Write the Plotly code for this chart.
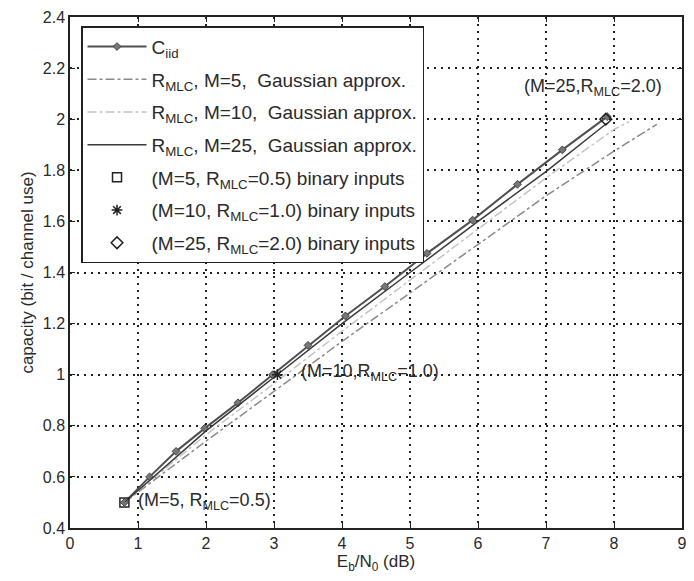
import plotly.graph_objects as go

# C_iid curve (markers)
ciid_x = [0.80, 1.17, 1.56, 1.98, 2.47, 2.98, 3.50, 4.05, 4.63, 5.25, 5.92, 6.58, 7.24, 7.90]
ciid_y = [0.50, 0.60, 0.70, 0.79, 0.89, 1.00, 1.115, 1.23, 1.345, 1.475, 1.605, 1.745, 1.88, 2.01]

# Gaussian approximations
m5_x = [0.80, 2.0, 3.0, 4.0, 5.0, 6.0, 7.0, 8.0, 8.63]
m5_y = [0.50, 0.74, 0.935, 1.13, 1.32, 1.51, 1.70, 1.875, 1.98]
m10_x = [0.80, 2.0, 3.0, 4.0, 5.0, 6.0, 7.0, 8.0, 8.22]
m10_y = [0.50, 0.765, 0.965, 1.17, 1.37, 1.57, 1.77, 1.96, 1.99]
m25_x = [0.80, 2.0, 3.0, 4.0, 5.0, 6.0, 7.0, 7.90]
m25_y = [0.50, 0.78, 0.99, 1.20, 1.40, 1.60, 1.795, 1.985]

# binary input points
b5 = (0.80, 0.50)
b10 = (3.05, 1.00)
b25 = (7.88, 2.00)

xticks = [0, 1, 2, 3, 4, 5, 6, 7, 8, 9]
yticks = [0.4, 0.6, 0.8, 1.0, 1.2, 1.4, 1.6, 1.8, 2.0, 2.2, 2.4]
ytick_text = ["0.4", "0.6", "0.8", "1", "1.2", "1.4", "1.6", "1.8", "2", "2.2", "2.4"]

FONT = "Liberation Sans, Arial, sans-serif"
TXT = "#2a2a2a"

fig = go.Figure()
fig.add_trace(go.Scatter(x=ciid_x, y=ciid_y, mode="lines+markers",
                         line=dict(color="#505050", width=2),
                         marker=dict(symbol="diamond", size=6, color="#777777",
                                     line=dict(color="#444444", width=1)),
                         name="C<sub>iid</sub>", legendgroup="a"))
fig.add_trace(go.Scatter(x=m5_x, y=m5_y, mode="lines",
                         line=dict(color="#8a8a8a", width=1.5, dash="dashdot"),
                         name="R<sub>MLC</sub>, M=5,  Gaussian approx.", legendgroup="b"))
fig.add_trace(go.Scatter(x=m10_x, y=m10_y, mode="lines",
                         line=dict(color="#c4c4c4", width=1.5, dash="dashdot"),
                         name="R<sub>MLC</sub>, M=10,  Gaussian approx.", legendgroup="c"))
fig.add_trace(go.Scatter(x=m25_x, y=m25_y, mode="lines",
                         line=dict(color="#3a3a3a", width=1.5),
                         name="R<sub>MLC</sub>, M=25,  Gaussian approx.", legendgroup="d"))
fig.add_trace(go.Scatter(x=[b5[0]], y=[b5[1]], mode="markers",
                         marker=dict(symbol="square-open", size=9, color="#222222",
                                     line=dict(width=1.5)),
                         name="(M=5, R<sub>MLC</sub>=0.5) binary inputs", legendgroup="e"))
fig.add_trace(go.Scatter(x=[b10[0]], y=[b10[1]], mode="markers",
                         marker=dict(symbol="asterisk-open", size=9, color="#222222",
                                     line=dict(width=1.5, color="#222222")),
                         name="(M=10, R<sub>MLC</sub>=1.0) binary inputs", legendgroup="f"))
fig.add_trace(go.Scatter(x=[b25[0]], y=[b25[1]], mode="markers",
                         marker=dict(symbol="diamond-open", size=9, color="#222222",
                                     line=dict(width=1.5)),
                         name="(M=25, R<sub>MLC</sub>=2.0) binary inputs", legendgroup="g"))

ann_font = dict(family=FONT, size=18, color=TXT)
fig.add_annotation(x=0.97, y=0.505, text="(M=5, R<sub>MLC</sub>=0.5)", showarrow=False,
                   xanchor="left", yanchor="middle", font=ann_font)
fig.add_annotation(x=3.37, y=1.01, text="(M=10,R<sub>MLC</sub>=1.0)", showarrow=False,
                   xanchor="left", yanchor="middle", font=ann_font)
fig.add_annotation(x=6.65, y=2.125, text="(M=25,R<sub>MLC</sub>=2.0)", showarrow=False,
                   xanchor="left", yanchor="middle", font=ann_font)

axis_common = dict(showline=True, linecolor="#222222", linewidth=1.5, mirror="ticks",
                   ticks="inside", ticklen=5, tickcolor="#222222",
                   showgrid=True, gridcolor="#222222", griddash="2px,5px", gridwidth=1.5,
                   zeroline=False, tickfont=dict(family=FONT, size=16, color=TXT))

fig.update_xaxes(range=[0, 9], tickvals=xticks,
                 title=dict(text="E<sub>b</sub>/N<sub>0</sub> (dB)", standoff=4,
                            font=dict(family=FONT, size=17, color=TXT)),
                 **axis_common)
fig.update_yaxes(range=[0.4, 2.4], tickvals=yticks, ticktext=ytick_text,
                 title=dict(text="capacity (bit / channel use)", standoff=5,
                            font=dict(family=FONT, size=17, color=TXT)),
                 **axis_common)

fig.update_layout(
    width=694, height=581,
    margin=dict(l=70, r=7, t=17, b=53),
    paper_bgcolor="white", plot_bgcolor="white",
    font=dict(family=FONT, size=16, color=TXT),
    legend=dict(x=0.018, y=0.982, xanchor="left", yanchor="top",
                bgcolor="white", bordercolor="#222222", borderwidth=1.5,
                font=dict(family=FONT, size=19, color=TXT),
                tracegroupgap=5, itemwidth=59),
    showlegend=True,
)

fig.write_html("out.html")
